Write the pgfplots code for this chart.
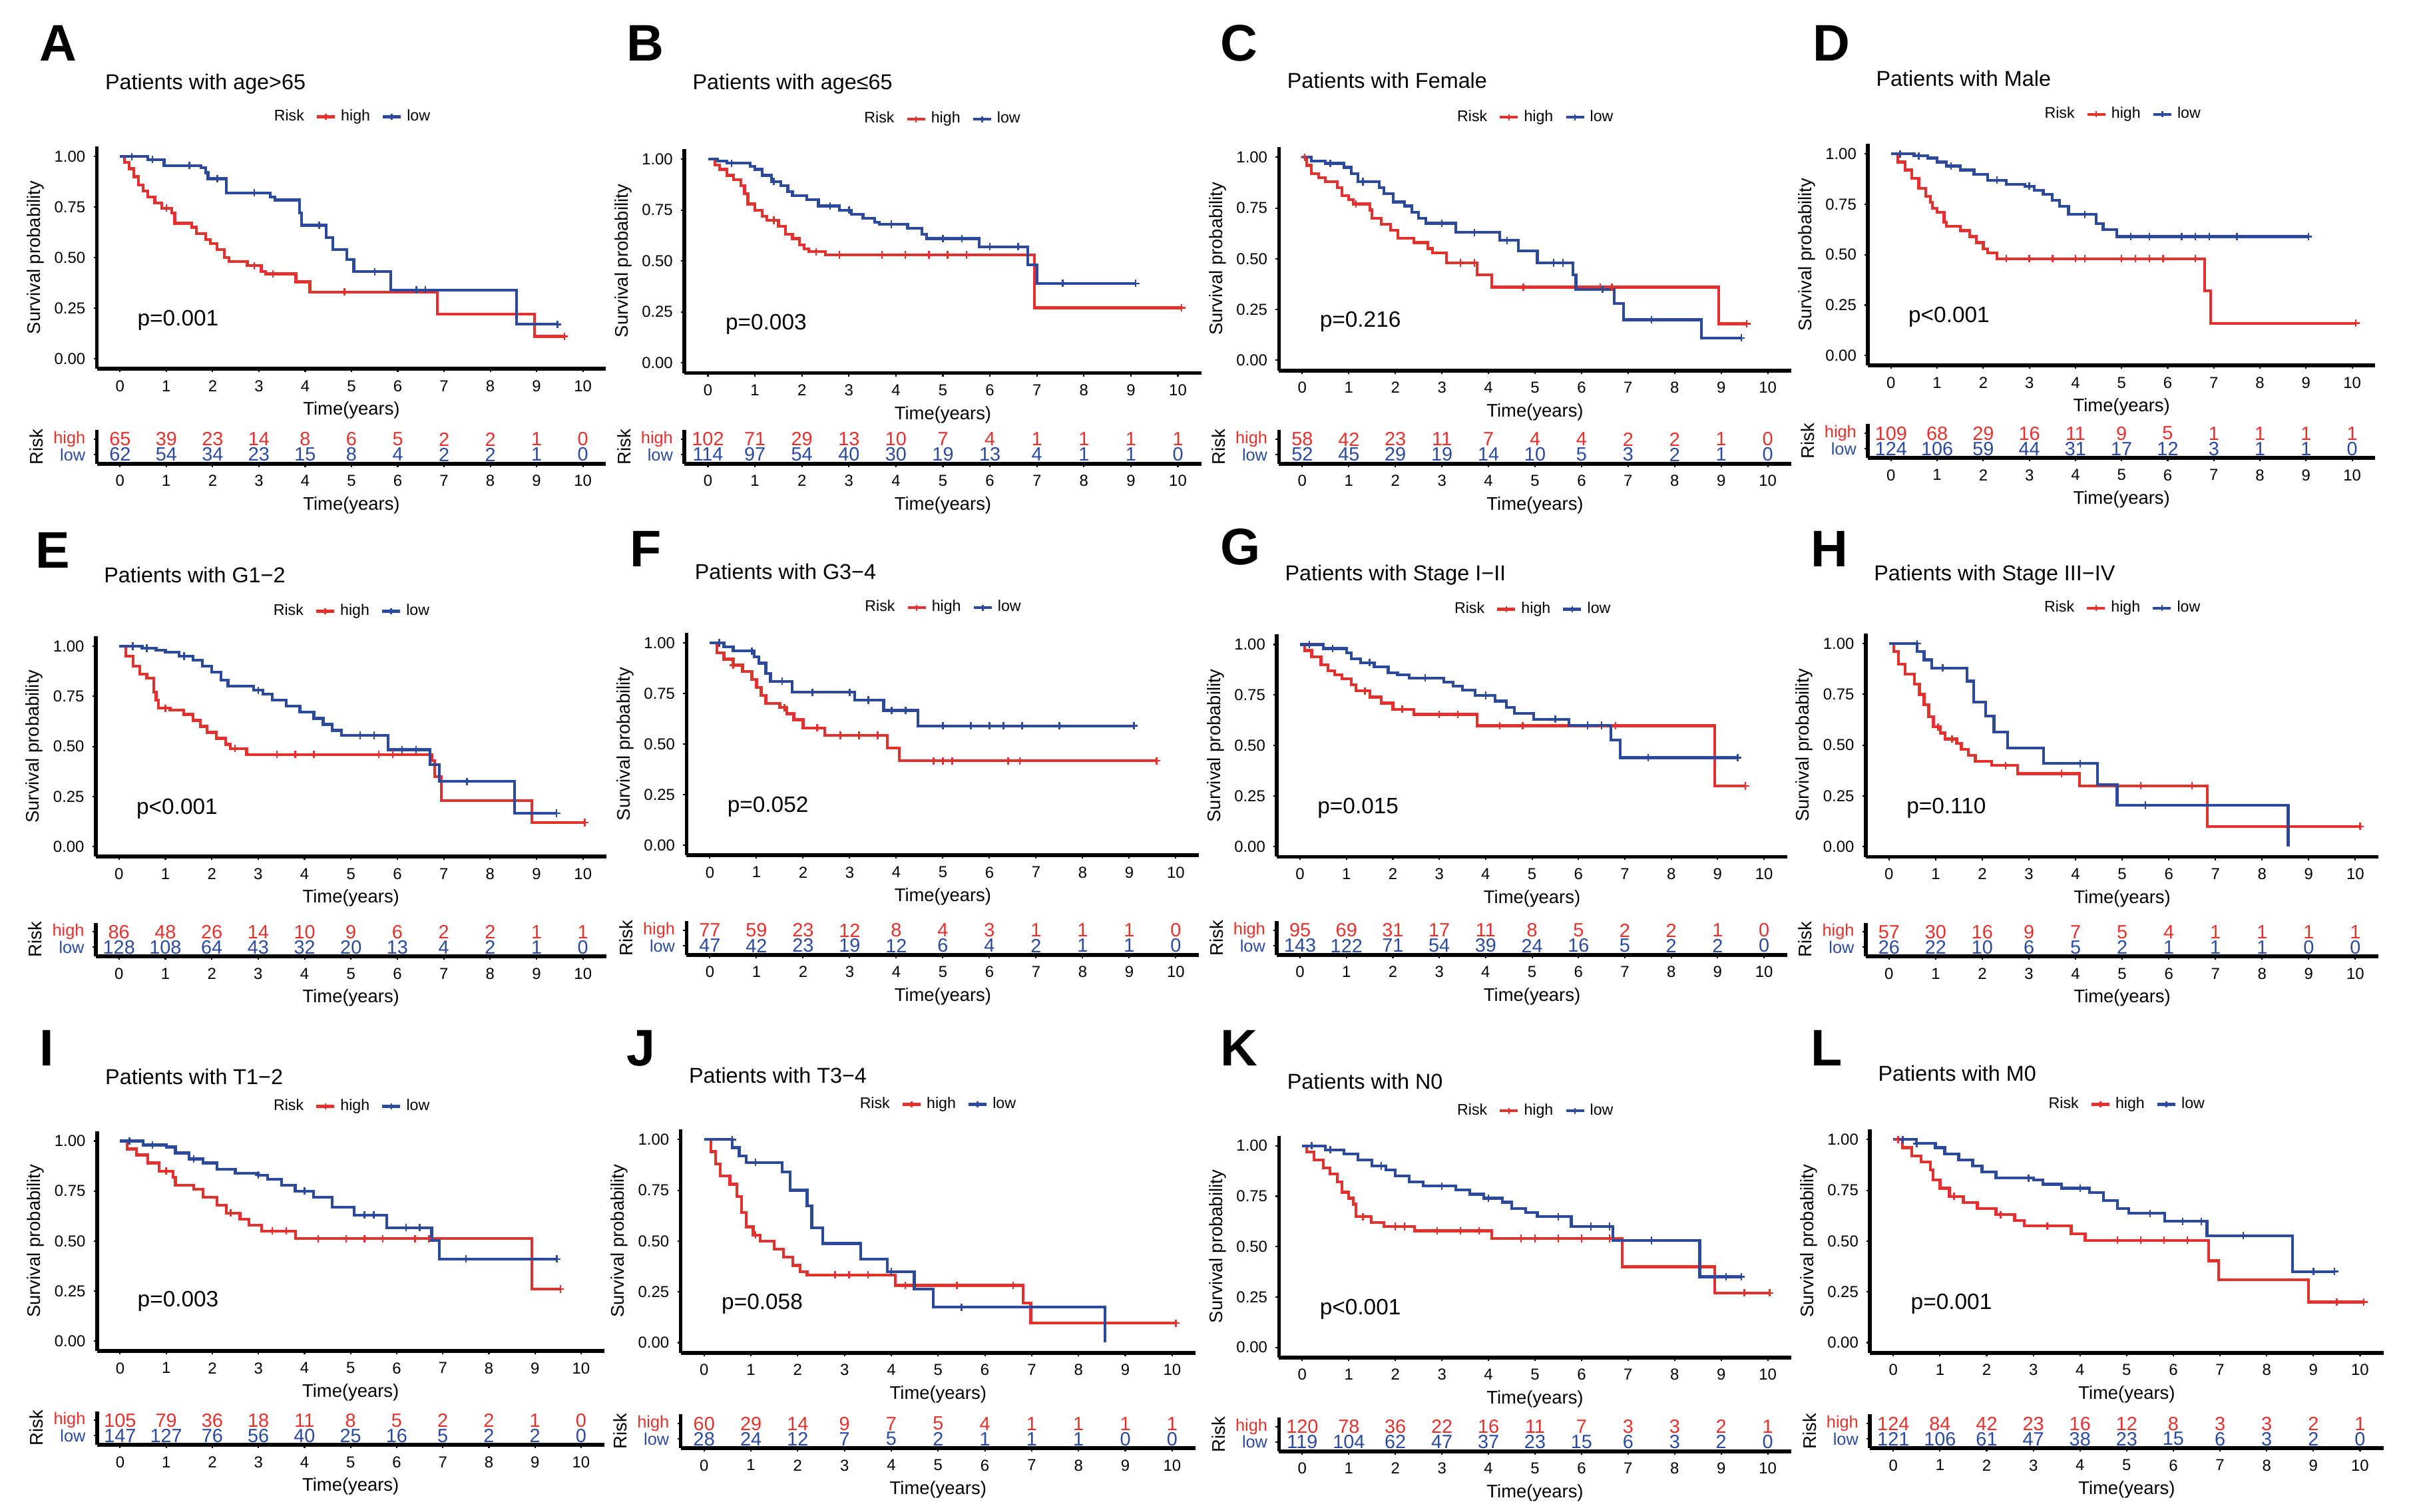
\documentclass[border=0pt]{standalone}
\usepackage{fontspec}
\setmainfont{Liberation Sans}
\usepackage{pgfplots}
\pgfplotsset{compat=1.18}
\definecolor{kmred}{HTML}{E3312D}
\definecolor{kmblue}{HTML}{2B4A9D}

\pgfplotsset{
  kmbase/.style={scale only axis, clip=false, xmin=-0.5, xmax=10.5,
    axis lines=left, axis line style={-, line width=1.6pt, black},
    xtick={0,...,10}, tick align=outside, major tick length=0.05cm,
    tick style={line width=0.6pt, black},
    ticklabel style={font=\fontsize{6.8}{7.5}\selectfont},
    /pgf/number format/assume math mode=true,
    xlabel={Time(years)}, xlabel style={font=\fontsize{7.8}{8.5}\selectfont, inner sep=0.03cm},
    ylabel style={font=\fontsize{7.8}{8.5}\selectfont, inner sep=0.03cm},
    anchor=south west},
  km/.style={kmbase, ymin=-0.05, ymax=1.05,
    ytick={0,0.25,0.5,0.75,1}, yticklabels={0.00,0.25,0.50,0.75,1.00},
    ylabel={Survival probability},
    legend columns=-1,
    legend image code/.code={
      \draw[##1, line width=1.2pt] (0cm,0cm) -- (0.27cm,0cm);
      \draw[##1, line width=0.7pt] (0.135cm,-0.045cm) -- (0.135cm,0.045cm);},
    legend style={at={(0.338,#1)}, anchor=west, draw=none, fill=none, inner sep=0pt,
      font=\fontsize{6.6}{7}\selectfont,
      /tikz/every even column/.append style={column sep=0.1cm}}},
  risk/.style={kmbase, ymin=0.4, ymax=2.6, height=0.506cm, ytick={1,2},
    yticklabels={{\color{kmblue}low},{\color{kmred}high}}, ylabel={Risk},
    yticklabel style={font=\fontsize{7.2}{7.5}\selectfont}},
  kmline/.style={const plot, mark=none, line width=1.2pt, forget plot},
  kmcens/.style={only marks, mark=+, mark size=1.6pt, mark options={line width=0.7pt}, forget plot},
  rnum/.style={draw=none, mark=none, forget plot, nodes near coords, point meta=explicit symbolic,
    every node near coord/.style={anchor=center, text=#1, inner sep=0pt, font=\fontsize{8.2}{8.5}\selectfont}},
}
\tikzset{
  letter/.style={anchor=base west, font=\fontsize{22}{24}\selectfont\bfseries},
  ttl/.style={anchor=base west, font=\fontsize{9.2}{10}\selectfont},
  pval/.style={anchor=west, font=\fontsize{9.5}{10}\selectfont},
}

\begin{document}
\begin{tikzpicture}
\path[use as bounding box] (0,0) rectangle (36.28cm,-22.72cm);

% ---------------- A
\node[letter] at (0.47cm,-0.917cm) {A};
\node[ttl] at (1.456cm,-1.348cm) {Patients with age>65};
\begin{axis}[km=1.133, at={(1.456cm,-5.542cm)}, width=7.648cm, height=3.342cm]
\addlegendimage{empty legend}\addlegendentry{Risk}
\addlegendimage{kmred}\addlegendentry{high}
\addlegendimage{kmblue}\addlegendentry{low}
\addplot[kmred, kmline] coordinates {(0,1)(0.1,0.97)(0.2,0.94)(0.3,0.9)(0.4,0.86)(0.5,0.83)(0.6,0.8)(0.75,0.77)(0.9,0.745)(1.12,0.72)(1.18,0.67)(1.55,0.65)(1.65,0.62)(1.85,0.59)(1.95,0.57)(2.1,0.54)(2.25,0.5)(2.35,0.48)(2.75,0.46)(3.05,0.43)(3.15,0.42)(3.8,0.38)(4.1,0.33)(6.85,0.22)(8.95,0.11)(9.6,0.11)};
\addplot[kmred, kmcens] coordinates {(1.0,0.745)(2.9,0.46)(3.3,0.42)(4.85,0.33)(9.6,0.11)};
\addplot[kmblue, kmline] coordinates {(0,1)(0.6,0.985)(0.95,0.955)(1.75,0.945)(1.85,0.92)(1.9,0.89)(2.3,0.82)(3.25,0.8)(3.35,0.785)(3.88,0.72)(3.92,0.66)(4.45,0.6)(4.6,0.54)(4.9,0.49)(5.05,0.43)(5.85,0.34)(8.57,0.17)(9.45,0.17)};
\addplot[kmblue, kmcens] coordinates {(0.25,1)(0.7,0.985)(1.5,0.955)(2.1,0.89)(2.9,0.82)(4.3,0.66)(5.5,0.43)(6.4,0.34)(6.6,0.34)(9.45,0.17)};
\node[pval] at (axis cs:0.2,0.19) {p=0.001};
\end{axis}
\begin{axis}[risk, at={(1.456cm,-6.968cm)}, width=7.648cm]
\addplot[rnum=kmred] coordinates {(0,2)[65](1,2)[39](2,2)[23](3,2)[14](4,2)[8](5,2)[6](6,2)[5](7,2)[2](8,2)[2](9,2)[1](10,2)[0]};
\addplot[rnum=kmblue] coordinates {(0,1)[62](1,1)[54](2,1)[34](3,1)[23](4,1)[15](5,1)[8](6,1)[4](7,1)[2](8,1)[2](9,1)[1](10,1)[0]};
\end{axis}

% ---------------- B
\node[letter] at (9.286cm,-0.917cm) {B};
\node[ttl] at (10.282cm,-1.348cm) {Patients with age≤65};
\begin{axis}[km=1.133, at={(10.282cm,-5.605cm)}, width=7.766cm, height=3.367cm]
\addlegendimage{empty legend}\addlegendentry{Risk}
\addlegendimage{kmred}\addlegendentry{high}
\addlegendimage{kmblue}\addlegendentry{low}
\addplot[kmred, kmline] coordinates {(0,1)(0.15,0.97)(0.25,0.95)(0.4,0.92)(0.55,0.9)(0.7,0.87)(0.78,0.83)(0.85,0.78)(1.0,0.75)(1.15,0.72)(1.25,0.7)(1.5,0.67)(1.65,0.63)(1.8,0.61)(1.95,0.58)(2.05,0.56)(2.15,0.545)(2.5,0.53)(6.95,0.27)(10.08,0.27)};
\addplot[kmred, kmcens] coordinates {(1.4,0.7)(2.3,0.545)(2.8,0.53)(3.7,0.53)(4.2,0.53)(4.7,0.53)(5.1,0.53)(5.5,0.53)(10.08,0.27)};
\addplot[kmblue, kmline] coordinates {(0,1)(0.2,0.99)(0.4,0.98)(0.9,0.965)(1.0,0.95)(1.15,0.92)(1.35,0.89)(1.55,0.87)(1.7,0.84)(1.8,0.82)(2.1,0.8)(2.35,0.77)(2.8,0.75)(3.05,0.73)(3.3,0.71)(3.55,0.69)(3.65,0.68)(4.25,0.66)(4.55,0.63)(4.65,0.61)(5.77,0.57)(6.81,0.48)(7.0,0.39)(9.1,0.39)};
\addplot[kmblue, kmcens] coordinates {(0.5,0.98)(1.4,0.89)(2.6,0.77)(3.0,0.75)(3.9,0.68)(5.0,0.61)(5.4,0.61)(6.0,0.57)(6.6,0.57)(7.55,0.39)(9.1,0.39)};
\node[pval] at (axis cs:0.2,0.19) {p=0.003};
\end{axis}
\begin{axis}[risk, at={(10.282cm,-6.968cm)}, width=7.766cm]
\addplot[rnum=kmred] coordinates {(0,2)[102](1,2)[71](2,2)[29](3,2)[13](4,2)[10](5,2)[7](6,2)[4](7,2)[1](8,2)[1](9,2)[1](10,2)[1]};
\addplot[rnum=kmblue] coordinates {(0,1)[114](1,1)[97](2,1)[54](3,1)[40](4,1)[30](5,1)[19](6,1)[13](7,1)[4](8,1)[1](9,1)[1](10,1)[0]};
\end{axis}

% ---------------- C
\node[letter] at (18.214cm,-0.917cm) {C};
\node[ttl] at (19.214cm,-1.324cm) {Patients with Female};
\begin{axis}[km=1.133, at={(19.214cm,-5.567cm)}, width=7.692cm, height=3.357cm]
\addlegendimage{empty legend}\addlegendentry{Risk}
\addlegendimage{kmred}\addlegendentry{high}
\addlegendimage{kmblue}\addlegendentry{low}
\addplot[kmred, kmline] coordinates {(0,1)(0.1,0.96)(0.2,0.92)(0.35,0.9)(0.5,0.88)(0.75,0.85)(0.85,0.81)(1.0,0.79)(1.1,0.77)(1.45,0.74)(1.5,0.7)(1.7,0.67)(1.9,0.64)(2.05,0.6)(2.4,0.58)(2.7,0.55)(2.8,0.53)(3.1,0.48)(3.75,0.42)(4.07,0.36)(8.95,0.18)(9.55,0.18)};
\addplot[kmred, kmcens] coordinates {(0.05,1)(1.15,0.77)(3.4,0.48)(3.7,0.48)(4.75,0.36)(6.4,0.36)(6.65,0.36)(9.55,0.18)};
\addplot[kmblue, kmline] coordinates {(0,1)(0.2,0.98)(0.5,0.97)(0.9,0.95)(1.05,0.92)(1.2,0.88)(1.65,0.85)(1.75,0.82)(1.95,0.78)(2.2,0.76)(2.35,0.73)(2.5,0.7)(2.65,0.675)(3.3,0.63)(4.24,0.59)(4.64,0.54)(5.05,0.48)(5.82,0.42)(5.88,0.35)(6.7,0.28)(6.9,0.2)(8.58,0.11)(9.43,0.11)};
\addplot[kmblue, kmcens] coordinates {(0.6,0.97)(1.3,0.88)(3.0,0.675)(3.7,0.63)(4.4,0.59)(5.4,0.48)(5.6,0.48)(6.45,0.35)(7.5,0.2)(9.43,0.11)};
\node[pval] at (axis cs:0.2,0.19) {p=0.216};
\end{axis}
\begin{axis}[risk, at={(19.214cm,-6.968cm)}, width=7.692cm]
\addplot[rnum=kmred] coordinates {(0,2)[58](1,2)[42](2,2)[23](3,2)[11](4,2)[7](5,2)[4](6,2)[4](7,2)[2](8,2)[2](9,2)[1](10,2)[0]};
\addplot[rnum=kmblue] coordinates {(0,1)[52](1,1)[45](2,1)[29](3,1)[19](4,1)[14](5,1)[10](6,1)[5](7,1)[3](8,1)[2](9,1)[1](10,1)[0]};
\end{axis}

% ---------------- D
\node[letter] at (27.11cm,-0.917cm) {D};
\node[ttl] at (28.062cm,-1.30cm) {Patients with Male};
\begin{axis}[km=1.133, at={(28.062cm,-5.493cm)}, width=7.62cm, height=3.331cm]
\addlegendimage{empty legend}\addlegendentry{Risk}
\addlegendimage{kmred}\addlegendentry{high}
\addlegendimage{kmblue}\addlegendentry{low}
\addplot[kmred, kmline] coordinates {(0,1)(0.15,0.96)(0.3,0.92)(0.45,0.88)(0.6,0.83)(0.75,0.79)(0.85,0.76)(0.9,0.73)(1.0,0.71)(1.15,0.66)(1.2,0.64)(1.5,0.62)(1.7,0.59)(1.85,0.56)(2.0,0.53)(2.1,0.51)(2.3,0.48)(6.8,0.32)(6.93,0.16)(10.08,0.16)};
\addplot[kmred, kmcens] coordinates {(2.5,0.48)(3.0,0.48)(3.5,0.48)(4.0,0.48)(4.2,0.48)(5.0,0.48)(5.3,0.48)(5.6,0.48)(5.9,0.48)(6.6,0.48)(10.08,0.16)};
\addplot[kmblue, kmline] coordinates {(0,1)(0.5,0.99)(0.8,0.98)(1.0,0.96)(1.2,0.94)(1.5,0.92)(1.8,0.9)(2.1,0.87)(2.5,0.85)(2.9,0.84)(3.1,0.82)(3.3,0.8)(3.5,0.77)(3.65,0.74)(3.85,0.7)(4.45,0.655)(4.6,0.625)(4.9,0.59)(9.05,0.59)};
\addplot[kmblue, kmcens] coordinates {(0.2,1)(0.6,0.99)(1.3,0.94)(2.3,0.87)(3.0,0.84)(4.2,0.7)(5.2,0.59)(5.6,0.59)(6.3,0.59)(6.6,0.59)(6.9,0.59)(7.5,0.59)(9.05,0.59)};
\node[pval] at (axis cs:0.2,0.19) {p<0.001};
\end{axis}
\begin{axis}[risk, at={(28.062cm,-6.88cm)}, width=7.62cm]
\addplot[rnum=kmred] coordinates {(0,2)[109](1,2)[68](2,2)[29](3,2)[16](4,2)[11](5,2)[9](6,2)[5](7,2)[1](8,2)[1](9,2)[1](10,2)[1]};
\addplot[rnum=kmblue] coordinates {(0,1)[124](1,1)[106](2,1)[59](3,1)[44](4,1)[31](5,1)[17](6,1)[12](7,1)[3](8,1)[1](9,1)[1](10,1)[0]};
\end{axis}

% ---------------- E
\node[letter] at (0.414cm,-8.537cm) {E};
\node[ttl] at (1.439cm,-8.752cm) {Patients with G1−2};
\begin{axis}[km=1.113, at={(1.439cm,-12.873cm)}, width=7.667cm, height=3.314cm]
\addlegendimage{empty legend}\addlegendentry{Risk}
\addlegendimage{kmred}\addlegendentry{high}
\addlegendimage{kmblue}\addlegendentry{low}
\addplot[kmred, kmline] coordinates {(0,1)(0.15,0.95)(0.3,0.9)(0.45,0.86)(0.6,0.84)(0.75,0.77)(0.8,0.73)(0.85,0.69)(1.1,0.68)(1.4,0.66)(1.6,0.63)(1.75,0.6)(1.9,0.57)(2.1,0.54)(2.3,0.51)(2.4,0.49)(2.75,0.46)(6.74,0.43)(6.8,0.35)(6.95,0.23)(8.9,0.12)(10.04,0.12)};
\addplot[kmred, kmcens] coordinates {(1.0,0.69)(2.5,0.49)(3.4,0.46)(3.8,0.46)(4.2,0.46)(5.6,0.46)(5.9,0.46)(10.04,0.12)};
\addplot[kmblue, kmline] coordinates {(0,1)(0.5,0.99)(0.8,0.98)(1.0,0.97)(1.3,0.95)(1.6,0.93)(1.8,0.9)(2.0,0.87)(2.2,0.83)(2.35,0.8)(2.9,0.78)(3.1,0.76)(3.3,0.73)(3.6,0.7)(3.9,0.67)(4.2,0.64)(4.4,0.61)(4.6,0.58)(4.8,0.555)(5.8,0.484)(6.7,0.41)(6.9,0.325)(8.53,0.167)(9.43,0.167)};
\addplot[kmblue, kmcens] coordinates {(0.3,1)(0.6,0.99)(1.4,0.95)(3.0,0.78)(5.2,0.555)(5.5,0.555)(6.1,0.484)(6.4,0.484)(7.5,0.325)(9.43,0.167)};
\node[pval] at (axis cs:0.2,0.19) {p<0.001};
\end{axis}
\begin{axis}[risk, at={(1.439cm,-14.372cm)}, width=7.667cm]
\addplot[rnum=kmred] coordinates {(0,2)[86](1,2)[48](2,2)[26](3,2)[14](4,2)[10](5,2)[9](6,2)[6](7,2)[2](8,2)[2](9,2)[1](10,2)[1]};
\addplot[rnum=kmblue] coordinates {(0,1)[128](1,1)[108](2,1)[64](3,1)[43](4,1)[32](5,1)[20](6,1)[13](7,1)[4](8,1)[2](9,1)[1](10,1)[0]};
\end{axis}

% ---------------- F
\node[letter] at (9.343cm,-8.513cm) {F};
\node[ttl] at (10.314cm,-8.704cm) {Patients with G3−4};
\begin{axis}[km=1.113, at={(10.314cm,-12.85cm)}, width=7.70cm, height=3.341cm]
\addlegendimage{empty legend}\addlegendentry{Risk}
\addlegendimage{kmred}\addlegendentry{high}
\addlegendimage{kmblue}\addlegendentry{low}
\addplot[kmred, kmline] coordinates {(0,1)(0.15,0.95)(0.3,0.92)(0.5,0.89)(0.7,0.86)(0.9,0.82)(1.0,0.78)(1.1,0.74)(1.2,0.7)(1.5,0.68)(1.65,0.65)(1.8,0.62)(2.0,0.58)(2.46,0.543)(3.81,0.48)(4.06,0.417)(9.59,0.417)};
\addplot[kmred, kmcens] coordinates {(0.5,0.89)(1.6,0.68)(2.3,0.58)(2.8,0.543)(3.2,0.543)(3.6,0.543)(4.8,0.417)(5.0,0.417)(5.2,0.417)(6.4,0.417)(6.65,0.417)(9.59,0.417)};
\addplot[kmblue, kmline] coordinates {(0,1)(0.3,0.98)(0.5,0.96)(0.95,0.93)(1.05,0.9)(1.2,0.85)(1.3,0.81)(1.76,0.756)(3.11,0.717)(3.73,0.666)(4.47,0.59)(9.1,0.59)};
\addplot[kmblue, kmcens] coordinates {(0.2,1)(0.9,0.96)(1.55,0.81)(2.2,0.756)(3.0,0.756)(3.4,0.717)(3.9,0.666)(4.2,0.666)(5.0,0.59)(5.6,0.59)(6.0,0.59)(6.3,0.59)(6.7,0.59)(7.5,0.59)(9.1,0.59)};
\node[pval] at (axis cs:0.2,0.19) {p=0.052};
\end{axis}
\begin{axis}[risk, at={(10.314cm,-14.348cm)}, width=7.70cm]
\addplot[rnum=kmred] coordinates {(0,2)[77](1,2)[59](2,2)[23](3,2)[12](4,2)[8](5,2)[4](6,2)[3](7,2)[1](8,2)[1](9,2)[1](10,2)[0]};
\addplot[rnum=kmblue] coordinates {(0,1)[47](1,1)[42](2,1)[23](3,1)[19](4,1)[12](5,1)[6](6,1)[4](7,1)[2](8,1)[1](9,1)[1](10,1)[0]};
\end{axis}

% ---------------- G
\node[letter] at (18.214cm,-8.489cm) {G};
\node[ttl] at (19.182cm,-8.728cm) {Patients with Stage I−II};
\begin{axis}[km=1.113, at={(19.182cm,-12.874cm)}, width=7.667cm, height=3.341cm]
\addlegendimage{empty legend}\addlegendentry{Risk}
\addlegendimage{kmred}\addlegendentry{high}
\addlegendimage{kmblue}\addlegendentry{low}
\addplot[kmred, kmline] coordinates {(0,1)(0.1,0.97)(0.25,0.94)(0.45,0.9)(0.6,0.87)(0.75,0.85)(0.9,0.83)(1.1,0.8)(1.2,0.77)(1.5,0.74)(1.75,0.71)(2.0,0.68)(2.45,0.654)(3.81,0.598)(8.94,0.3)(9.6,0.3)};
\addplot[kmred, kmcens] coordinates {(1.4,0.77)(2.2,0.68)(3.0,0.654)(3.4,0.654)(4.3,0.598)(4.8,0.598)(6.5,0.598)(6.8,0.598)(9.6,0.3)};
\addplot[kmblue, kmline] coordinates {(0,1)(0.5,0.98)(1.0,0.96)(1.1,0.93)(1.3,0.91)(1.6,0.89)(1.9,0.86)(2.1,0.85)(2.35,0.835)(3.1,0.815)(3.3,0.795)(3.5,0.775)(3.77,0.748)(4.2,0.72)(4.45,0.69)(4.62,0.66)(5.03,0.63)(5.8,0.6)(6.7,0.527)(6.9,0.44)(9.43,0.44)};
\addplot[kmblue, kmcens] coordinates {(0.2,1)(0.7,0.98)(1.5,0.91)(2.7,0.835)(4.0,0.748)(5.5,0.63)(6.2,0.6)(6.5,0.6)(7.5,0.44)(9.43,0.44)};
\node[pval] at (axis cs:0.2,0.19) {p=0.015};
\end{axis}
\begin{axis}[risk, at={(19.182cm,-14.348cm)}, width=7.667cm]
\addplot[rnum=kmred] coordinates {(0,2)[95](1,2)[69](2,2)[31](3,2)[17](4,2)[11](5,2)[8](6,2)[5](7,2)[2](8,2)[2](9,2)[1](10,2)[0]};
\addplot[rnum=kmblue] coordinates {(0,1)[143](1,1)[122](2,1)[71](3,1)[54](4,1)[39](5,1)[24](6,1)[16](7,1)[5](8,1)[2](9,1)[2](10,1)[0]};
\end{axis}

% ---------------- H
\node[letter] at (27.08cm,-8.513cm) {H};
\node[ttl] at (28.028cm,-8.728cm) {Patients with Stage III−IV};
\begin{axis}[km=1.113, at={(28.028cm,-12.875cm)}, width=7.706cm, height=3.356cm]
\addlegendimage{empty legend}\addlegendentry{Risk}
\addlegendimage{kmred}\addlegendentry{high}
\addlegendimage{kmblue}\addlegendentry{low}
\addplot[kmred, kmline] coordinates {(0,1)(0.1,0.96)(0.2,0.9)(0.35,0.85)(0.55,0.8)(0.65,0.75)(0.75,0.7)(0.85,0.64)(0.95,0.59)(1.1,0.56)(1.2,0.53)(1.45,0.51)(1.55,0.48)(1.7,0.45)(1.85,0.42)(2.2,0.4)(2.76,0.36)(4.08,0.3)(6.82,0.1)(10.1,0.1)};
\addplot[kmred, kmcens] coordinates {(1.05,0.59)(1.35,0.53)(2.5,0.4)(3.7,0.36)(5.4,0.3)(6.5,0.3)(10.1,0.1)};
\addplot[kmblue, kmline] coordinates {(0,1)(0.6,0.96)(0.75,0.92)(0.92,0.88)(1.67,0.815)(1.82,0.713)(2.07,0.643)(2.25,0.564)(2.54,0.486)(3.31,0.41)(4.47,0.306)(4.89,0.204)(8.56,0)};
\addplot[kmblue, kmcens] coordinates {(0.6,1)(1.15,0.88)(4.1,0.41)(5.5,0.204)};
\node[pval] at (axis cs:0.2,0.19) {p=0.110};
\end{axis}
\begin{axis}[risk, at={(28.028cm,-14.372cm)}, width=7.706cm]
\addplot[rnum=kmred] coordinates {(0,2)[57](1,2)[30](2,2)[16](3,2)[9](4,2)[7](5,2)[5](6,2)[4](7,2)[1](8,2)[1](9,2)[1](10,2)[1]};
\addplot[rnum=kmblue] coordinates {(0,1)[26](1,1)[22](2,1)[10](3,1)[6](4,1)[5](5,1)[2](6,1)[1](7,1)[1](8,1)[1](9,1)[0](10,1)[0]};
\end{axis}

% ---------------- I
\node[letter] at (0.47cm,-16.01cm) {I};
\node[ttl] at (1.458cm,-16.294cm) {Patients with T1−2};
\begin{axis}[km=1.112, at={(1.458cm,-20.301cm)}, width=7.618cm, height=3.306cm]
\addlegendimage{empty legend}\addlegendentry{Risk}
\addlegendimage{kmred}\addlegendentry{high}
\addlegendimage{kmblue}\addlegendentry{low}
\addplot[kmred, kmline] coordinates {(0,1)(0.15,0.96)(0.35,0.93)(0.6,0.89)(0.85,0.85)(1.15,0.82)(1.2,0.78)(1.6,0.76)(1.8,0.72)(2.1,0.68)(2.3,0.64)(2.6,0.61)(2.8,0.58)(3.07,0.55)(3.81,0.512)(8.93,0.26)(9.55,0.26)};
\addplot[kmred, kmcens] coordinates {(1.0,0.85)(2.4,0.64)(3.3,0.55)(3.6,0.55)(4.3,0.512)(4.9,0.512)(5.3,0.512)(5.7,0.512)(6.4,0.512)(6.7,0.512)(9.55,0.26)};
\addplot[kmblue, kmline] coordinates {(0,1)(0.5,0.98)(1.0,0.97)(1.2,0.94)(1.5,0.91)(1.8,0.89)(2.1,0.86)(2.5,0.84)(3.0,0.83)(3.2,0.81)(3.5,0.78)(3.8,0.75)(4.2,0.72)(4.6,0.67)(5.08,0.63)(5.78,0.567)(6.76,0.504)(6.93,0.41)(9.47,0.41)};
\addplot[kmblue, kmcens] coordinates {(0.2,1)(0.7,0.98)(1.6,0.91)(3.0,0.83)(4.0,0.75)(5.3,0.63)(5.5,0.63)(6.2,0.567)(6.5,0.567)(7.5,0.41)(9.47,0.41)};
\node[pval] at (axis cs:0.2,0.2) {p=0.003};
\end{axis}
\begin{axis}[risk, at={(1.458cm,-21.712cm)}, width=7.618cm]
\addplot[rnum=kmred] coordinates {(0,2)[105](1,2)[79](2,2)[36](3,2)[18](4,2)[11](5,2)[8](6,2)[5](7,2)[2](8,2)[2](9,2)[1](10,2)[0]};
\addplot[rnum=kmblue] coordinates {(0,1)[147](1,1)[127](2,1)[76](3,1)[56](4,1)[40](5,1)[25](6,1)[16](7,1)[5](8,1)[2](9,1)[2](10,1)[0]};
\end{axis}

% ---------------- J
\node[letter] at (9.286cm,-16.01cm) {J};
\node[ttl] at (10.226cm,-16.27cm) {Patients with T3−4};
\begin{axis}[km=1.112, at={(10.226cm,-20.327cm)}, width=7.734cm, height=3.357cm]
\addlegendimage{empty legend}\addlegendentry{Risk}
\addlegendimage{kmred}\addlegendentry{high}
\addlegendimage{kmblue}\addlegendentry{low}
\addplot[kmred, kmline] coordinates {(0,1)(0.15,0.94)(0.25,0.88)(0.35,0.82)(0.55,0.78)(0.7,0.72)(0.8,0.64)(0.9,0.57)(1.05,0.53)(1.2,0.5)(1.5,0.46)(1.7,0.42)(1.9,0.38)(2.05,0.35)(2.2,0.333)(4.08,0.282)(6.82,0.194)(6.98,0.096)(10.08,0.096)};
\addplot[kmred, kmcens] coordinates {(1.1,0.53)(2.8,0.333)(3.1,0.333)(3.5,0.333)(4.3,0.282)(5.4,0.282)(6.6,0.282)(10.08,0.096)};
\addplot[kmblue, kmline] coordinates {(0,1)(0.6,0.96)(0.75,0.92)(0.9,0.887)(1.67,0.84)(1.84,0.75)(2.2,0.674)(2.3,0.566)(2.53,0.488)(3.35,0.41)(3.92,0.35)(4.49,0.264)(4.9,0.174)(8.57,0)};
\addplot[kmblue, kmcens] coordinates {(0.6,1)(1.1,0.887)(4.0,0.35)(5.5,0.174)};
\node[pval] at (axis cs:0.2,0.19) {p=0.058};
\end{axis}
\begin{axis}[risk, at={(10.226cm,-21.759cm)}, width=7.734cm]
\addplot[rnum=kmred] coordinates {(0,2)[60](1,2)[29](2,2)[14](3,2)[9](4,2)[7](5,2)[5](6,2)[4](7,2)[1](8,2)[1](9,2)[1](10,2)[1]};
\addplot[rnum=kmblue] coordinates {(0,1)[28](1,1)[24](2,1)[12](3,1)[7](4,1)[5](5,1)[2](6,1)[1](7,1)[1](8,1)[1](9,1)[0](10,1)[0]};
\end{axis}

% ---------------- K
\node[letter] at (18.214cm,-16.01cm) {K};
\node[ttl] at (19.214cm,-16.365cm) {Patients with N0};
\begin{axis}[km=1.112, at={(19.214cm,-20.397cm)}, width=7.692cm, height=3.331cm]
\addlegendimage{empty legend}\addlegendentry{Risk}
\addlegendimage{kmred}\addlegendentry{high}
\addlegendimage{kmblue}\addlegendentry{low}
\addplot[kmred, kmline] coordinates {(0,1)(0.1,0.97)(0.25,0.93)(0.45,0.89)(0.6,0.86)(0.75,0.82)(0.85,0.77)(1.0,0.74)(1.1,0.71)(1.15,0.648)(1.48,0.62)(1.75,0.6)(2.41,0.578)(4.07,0.54)(6.87,0.4)(8.86,0.27)(10.04,0.27)};
\addplot[kmred, kmcens] coordinates {(1.3,0.648)(2.0,0.6)(2.2,0.6)(2.9,0.578)(3.4,0.578)(3.8,0.578)(4.7,0.54)(5.0,0.54)(5.5,0.54)(6.0,0.54)(6.6,0.54)(9.5,0.27)(10.04,0.27)};
\addplot[kmblue, kmline] coordinates {(0,1)(0.5,0.98)(0.9,0.96)(1.2,0.93)(1.5,0.9)(1.8,0.88)(2.0,0.85)(2.3,0.82)(2.6,0.8)(3.3,0.78)(3.6,0.76)(3.9,0.74)(4.3,0.72)(4.5,0.69)(4.8,0.67)(5.05,0.648)(5.78,0.6)(6.67,0.53)(8.54,0.35)(9.43,0.35)};
\addplot[kmblue, kmcens] coordinates {(0.2,1)(0.6,0.98)(1.7,0.9)(3.0,0.8)(4.0,0.74)(5.5,0.648)(6.2,0.6)(6.6,0.6)(7.5,0.53)(9.1,0.35)(9.43,0.35)};
\node[pval] at (axis cs:0.2,0.19) {p<0.001};
\end{axis}
\begin{axis}[risk, at={(19.214cm,-21.807cm)}, width=7.692cm]
\addplot[rnum=kmred] coordinates {(0,2)[120](1,2)[78](2,2)[36](3,2)[22](4,2)[16](5,2)[11](6,2)[7](7,2)[3](8,2)[3](9,2)[2](10,2)[1]};
\addplot[rnum=kmblue] coordinates {(0,1)[119](1,1)[104](2,1)[62](3,1)[47](4,1)[37](5,1)[23](6,1)[15](7,1)[6](8,1)[3](9,1)[2](10,1)[0]};
\end{axis}

% ---------------- L
\node[letter] at (27.08cm,-16.01cm) {L};
\node[ttl] at (28.092cm,-16.246cm) {Patients with M0};
\begin{axis}[km=1.112, at={(28.092cm,-20.327cm)}, width=7.713cm, height=3.357cm]
\addlegendimage{empty legend}\addlegendentry{Risk}
\addlegendimage{kmred}\addlegendentry{high}
\addlegendimage{kmblue}\addlegendentry{low}
\addplot[kmred, kmline] coordinates {(0,1)(0.2,0.96)(0.4,0.92)(0.6,0.89)(0.8,0.85)(0.85,0.8)(1.0,0.76)(1.2,0.72)(1.5,0.69)(1.8,0.66)(2.2,0.63)(2.6,0.6)(2.8,0.574)(3.81,0.535)(4.11,0.504)(6.76,0.403)(6.97,0.31)(8.9,0.2)(10.08,0.2)};
\addplot[kmred, kmcens] coordinates {(0.1,1)(1.3,0.72)(2.3,0.63)(3.3,0.574)(4.8,0.504)(5.3,0.504)(5.8,0.504)(6.3,0.504)(9.5,0.2)(10.08,0.2)};
\addplot[kmblue, kmline] coordinates {(0,1)(0.5,0.98)(0.9,0.96)(1.1,0.93)(1.4,0.9)(1.7,0.87)(1.9,0.84)(2.2,0.81)(3.0,0.8)(3.2,0.78)(3.6,0.76)(4.2,0.74)(4.5,0.7)(4.8,0.66)(5.05,0.636)(5.82,0.597)(6.72,0.527)(8.55,0.35)(9.45,0.35)};
\addplot[kmblue, kmcens] coordinates {(0.2,1)(0.5,0.98)(2.9,0.81)(4.0,0.76)(5.5,0.636)(6.2,0.597)(6.6,0.597)(7.5,0.527)(9.0,0.35)(9.45,0.35)};
\node[pval] at (axis cs:0.2,0.19) {p=0.001};
\end{axis}
\begin{axis}[risk, at={(28.092cm,-21.759cm)}, width=7.713cm]
\addplot[rnum=kmred] coordinates {(0,2)[124](1,2)[84](2,2)[42](3,2)[23](4,2)[16](5,2)[12](6,2)[8](7,2)[3](8,2)[3](9,2)[2](10,2)[1]};
\addplot[rnum=kmblue] coordinates {(0,1)[121](1,1)[106](2,1)[61](3,1)[47](4,1)[38](5,1)[23](6,1)[15](7,1)[6](8,1)[3](9,1)[2](10,1)[0]};
\end{axis}

\end{tikzpicture}
\end{document}
